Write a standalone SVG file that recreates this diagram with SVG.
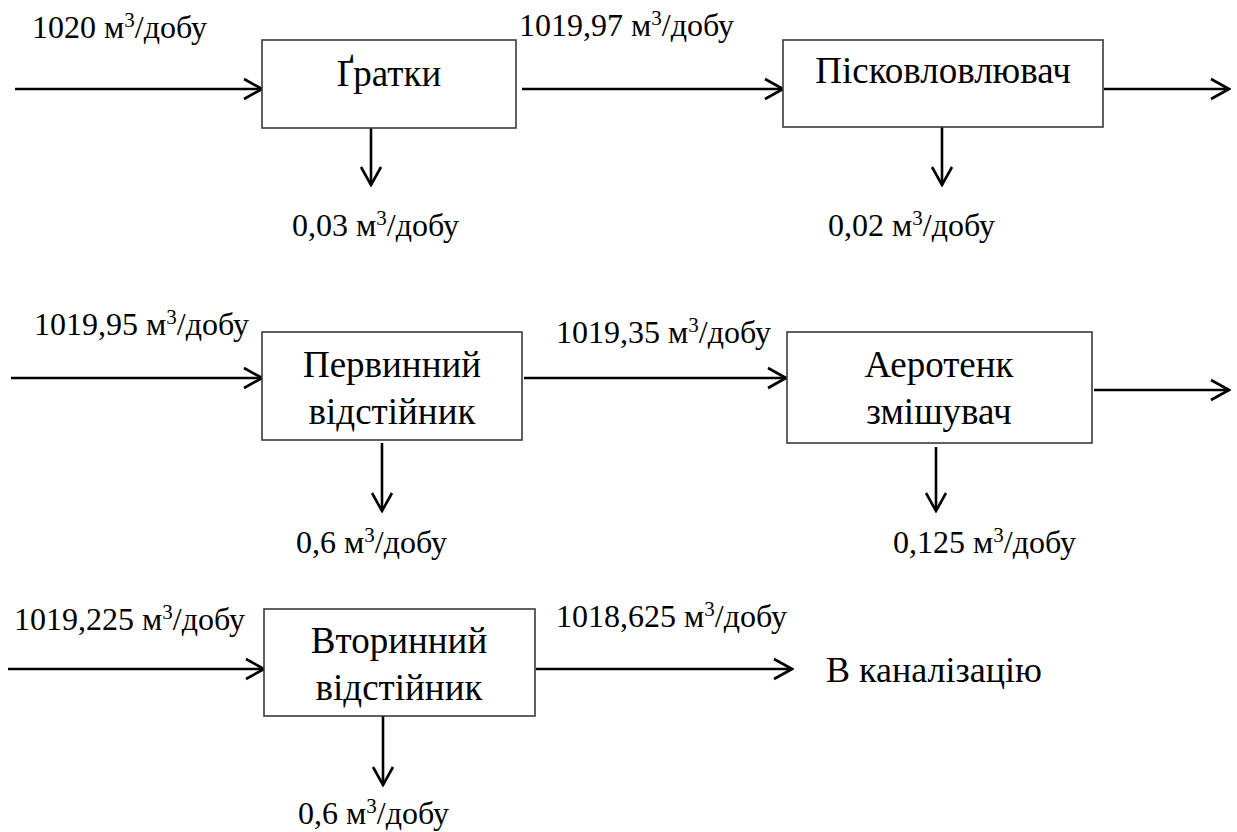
<svg xmlns="http://www.w3.org/2000/svg" width="1237" height="832" viewBox="0 0 1237 832">
<defs>
<style>
.box{fill:#fff;stroke:#3a3a3a;stroke-width:1.6}
.ln{stroke:#000;stroke-width:2.6;fill:none;marker-end:url(#arr)}
.lb{font-family:"Liberation Serif","DejaVu Serif","Times New Roman",serif;font-size:32px;fill:#000}
.bt{font-family:"Liberation Serif","DejaVu Serif","Times New Roman",serif;font-size:37px;fill:#000;text-anchor:middle}
.sup{font-size:21px}
</style>
<marker id="arr" viewBox="0 0 22 24" refX="20" refY="12" markerWidth="22" markerHeight="24" markerUnits="userSpaceOnUse" orient="auto">
<path d="M2,2 L20,12 L2,22" fill="none" stroke="#000" stroke-width="2.6"/>
</marker>
</defs>
<rect width="1237" height="832" fill="#fff"/>
<g id="connectors">
<line class="ln" x1="15" y1="89" x2="262" y2="89"/>
<line class="ln" x1="522" y1="89" x2="783" y2="89"/>
<line class="ln" x1="1104" y1="89" x2="1229" y2="89"/>
<line class="ln" x1="371" y1="128" x2="371" y2="185"/>
<line class="ln" x1="942" y1="127" x2="942" y2="185"/>
<line class="ln" x1="11" y1="378" x2="262" y2="378"/>
<line class="ln" x1="524" y1="378" x2="786" y2="378"/>
<line class="ln" x1="1094" y1="390" x2="1229" y2="390"/>
<line class="ln" x1="382" y1="443" x2="382" y2="511"/>
<line class="ln" x1="936" y1="447" x2="936" y2="511"/>
<line class="ln" x1="8" y1="669" x2="264" y2="669"/>
<line class="ln" x1="536" y1="669" x2="792" y2="669"/>
<line class="ln" x1="383" y1="716" x2="383" y2="785"/>
</g>
<g id="labels">
<text class="lb" x="32" y="38">1020 м<tspan class="sup" dy="-11">3</tspan><tspan dy="11">/добу</tspan></text>
<text class="lb" x="519" y="36">1019,97 м<tspan class="sup" dy="-11">3</tspan><tspan dy="11">/добу</tspan></text>
<text class="lb" x="292" y="236">0,03 м<tspan class="sup" dy="-11">3</tspan><tspan dy="11">/добу</tspan></text>
<text class="lb" x="828" y="236">0,02 м<tspan class="sup" dy="-11">3</tspan><tspan dy="11">/добу</tspan></text>
<text class="lb" x="34" y="335">1019,95 м<tspan class="sup" dy="-11">3</tspan><tspan dy="11">/добу</tspan></text>
<text class="lb" x="556" y="343">1019,35 м<tspan class="sup" dy="-11">3</tspan><tspan dy="11">/добу</tspan></text>
<text class="lb" x="296" y="553">0,6 м<tspan class="sup" dy="-11">3</tspan><tspan dy="11">/добу</tspan></text>
<text class="lb" x="893" y="553">0,125 м<tspan class="sup" dy="-11">3</tspan><tspan dy="11">/добу</tspan></text>
<text class="lb" x="14" y="630">1019,225 м<tspan class="sup" dy="-11">3</tspan><tspan dy="11">/добу</tspan></text>
<text class="lb" x="556" y="627">1018,625 м<tspan class="sup" dy="-11">3</tspan><tspan dy="11">/добу</tspan></text>
<text class="lb" x="298" y="824">0,6 м<tspan class="sup" dy="-11">3</tspan><tspan dy="11">/добу</tspan></text>
<text class="lb" x="826" y="682" style="font-size:36px">В каналізацію</text>
</g>
<g id="node-gratky">
<rect class="box" x="262" y="40" width="254" height="88"/>
<text class="bt" x="389" y="86">Ґратки</text>
</g>
<g id="node-piskovlovliuvach">
<rect class="box" x="783" y="40" width="320" height="87"/>
<text class="bt" x="943" y="83">Пісковловлювач</text>
</g>
<g id="node-pervynnyi">
<rect class="box" x="262" y="332" width="260" height="108"/>
<text class="bt" x="392" y="377">Первинний</text>
<text class="bt" x="392" y="424">відстійник</text>
</g>
<g id="node-aerotenk">
<rect class="box" x="787" y="332" width="305" height="111"/>
<text class="bt" x="939" y="377">Аеротенк</text>
<text class="bt" x="939" y="424">змішувач</text>
</g>
<g id="node-vtorynnyi">
<rect class="box" x="264" y="609" width="271" height="107"/>
<text class="bt" x="399" y="653">Вторинний</text>
<text class="bt" x="399" y="700">відстійник</text>
</g>
</svg>
